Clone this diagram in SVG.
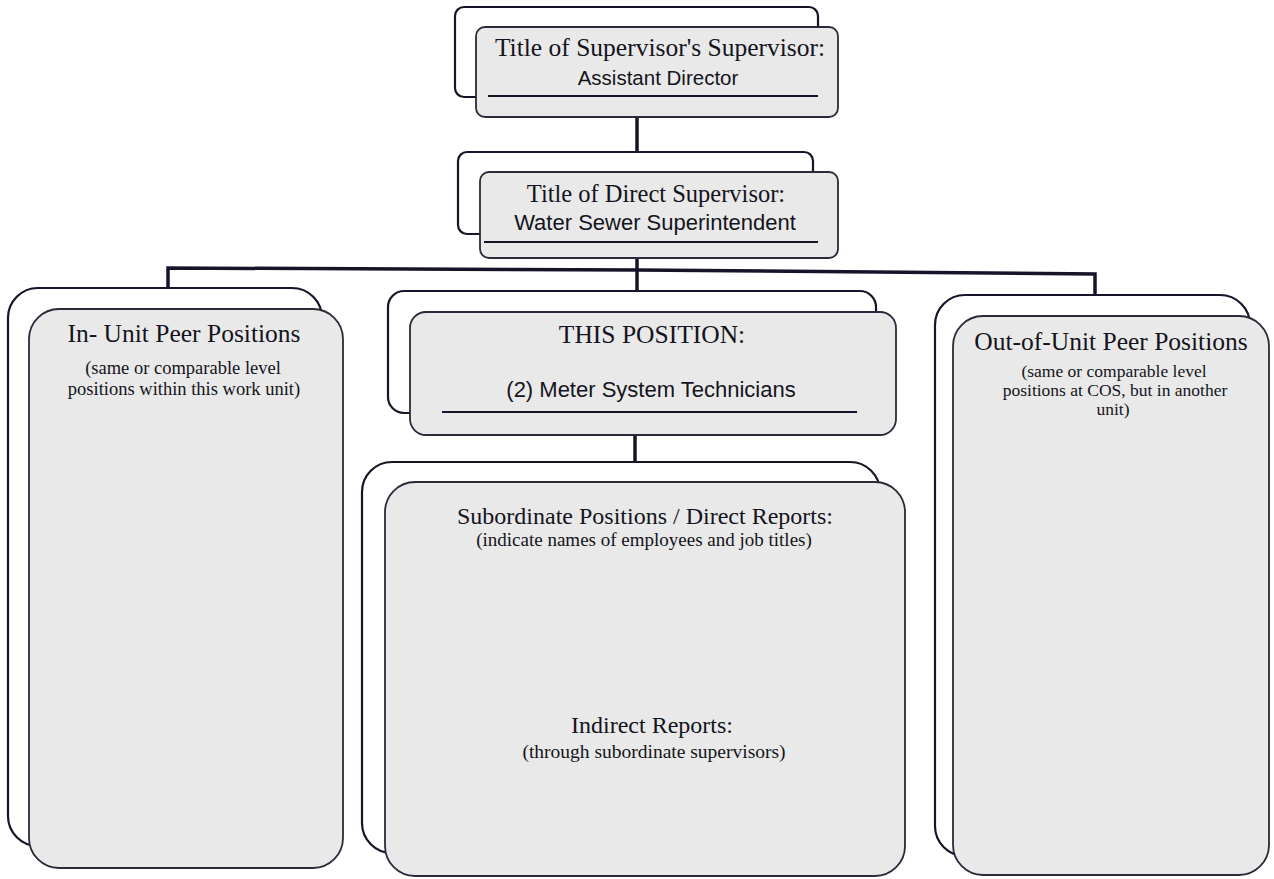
<svg xmlns="http://www.w3.org/2000/svg" width="1274" height="879" viewBox="0 0 1274 879">
<style>
.back{fill:#ffffff;stroke:#15152a;stroke-width:2.2}
.front{fill:#e9e9e9;stroke:#2a2a3a;stroke-width:1.8}
.conn{stroke:#15152a;stroke-width:3.5;fill:none}
.ul{stroke:#15152a;stroke-width:2}
.serif{font-family:"Liberation Serif","Times New Roman",serif;fill:#141420;text-anchor:middle}
.sans{font-family:"Liberation Sans",Arial,sans-serif;fill:#141420;text-anchor:middle}
</style>
<rect width="1274" height="879" fill="#ffffff"/>
<g id="connectors">
<line class="conn" x1="637" y1="117" x2="637" y2="153"/>
<line class="conn" x1="637" y1="258" x2="637" y2="270"/>
<polyline class="conn" points="168,288 168,268 637,270 1095,274 1095,296" stroke-width="4.5"/>
<line class="conn" x1="637" y1="270" x2="637" y2="292"/>
<line class="conn" x1="635" y1="435" x2="635" y2="463"/>
</g>
<g id="supervisors-supervisor">
<rect class="back" x="455" y="7" width="363" height="90" rx="9"/>
<rect class="front" x="476" y="27" width="362" height="90" rx="9"/>
<text class="serif" x="660" y="56" font-size="25.5">Title of Supervisor's Supervisor:</text>
<text class="sans" x="658" y="85" font-size="20.5">Assistant Director</text>
<line class="ul" x1="488" y1="96" x2="818" y2="96"/>
</g>
<g id="direct-supervisor">
<rect class="back" x="458" y="152" width="355" height="82" rx="9"/>
<rect class="front" x="480" y="172" width="358" height="86" rx="9"/>
<text class="serif" x="656" y="202" font-size="24.5">Title of Direct Supervisor:</text>
<text class="sans" x="655" y="230" font-size="22">Water Sewer Superintendent</text>
<line class="ul" x1="484" y1="242" x2="818" y2="242"/>
</g>
<g id="in-unit-peers">
<rect class="back" x="8" y="288" width="314" height="558" rx="30"/>
<rect class="front" x="29" y="309" width="314" height="559" rx="30"/>
<text class="serif" x="184" y="342" font-size="25.5">In- Unit Peer Positions</text>
<text class="serif" x="183" y="374" font-size="18.5">(same or comparable level</text>
<text class="serif" x="184" y="395" font-size="18.5">positions within this work unit)</text>
</g>
<g id="this-position">
<rect class="back" x="388" y="291" width="488" height="122" rx="16"/>
<rect class="front" x="410" y="312" width="486" height="123" rx="16"/>
<text class="serif" x="652" y="343" font-size="25.5">THIS POSITION:</text>
<text class="sans" x="651" y="397" font-size="22">(2) Meter System Technicians</text>
<line class="ul" x1="442" y1="412" x2="857" y2="412"/>
</g>
<g id="out-of-unit-peers">
<rect class="back" x="935" y="295" width="315" height="561" rx="30"/>
<rect class="front" x="953" y="316" width="316" height="559" rx="30"/>
<text class="serif" x="1111" y="350" font-size="25.5">Out-of-Unit Peer Positions</text>
<text class="serif" x="1114" y="377" font-size="17.5">(same or comparable level</text>
<text class="serif" x="1115" y="396" font-size="17.5">positions at COS, but in another</text>
<text class="serif" x="1113" y="415" font-size="17.5">unit)</text>
</g>
<g id="subordinates">
<rect class="back" x="362" y="462" width="518" height="391" rx="30"/>
<rect class="front" x="385" y="482" width="520" height="394" rx="30"/>
<text class="serif" x="645" y="524" font-size="24">Subordinate Positions / Direct Reports:</text>
<text class="serif" x="644" y="546" font-size="19">(indicate names of employees and job titles)</text>
<text class="serif" x="652" y="733" font-size="24">Indirect Reports:</text>
<text class="serif" x="654" y="758" font-size="19.5">(through subordinate supervisors)</text>
</g>
</svg>
